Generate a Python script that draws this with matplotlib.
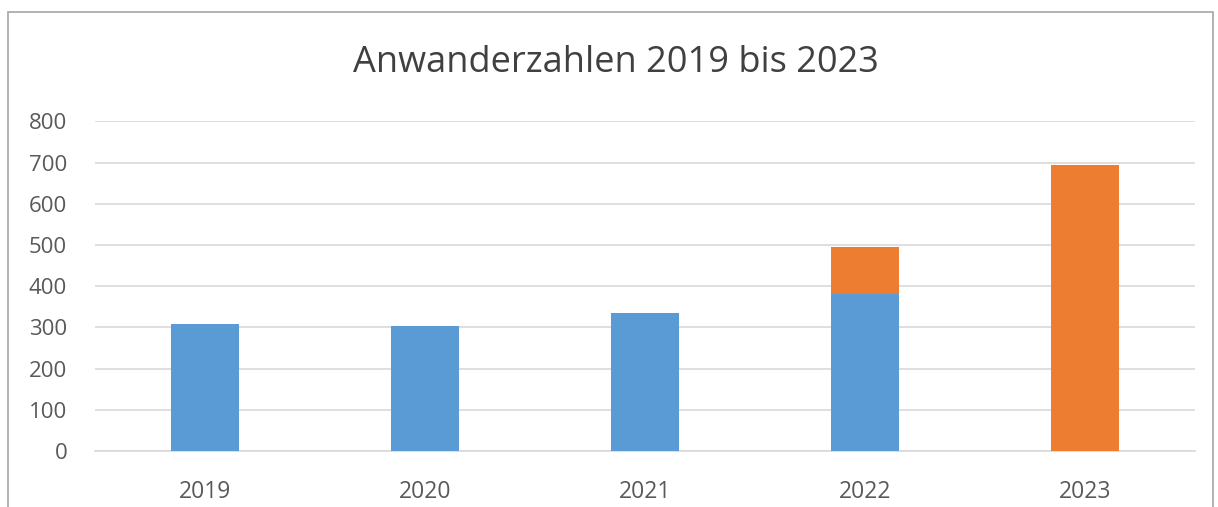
import matplotlib.pyplot as plt
from matplotlib.patches import Rectangle

# Daten
jahre = ['2019', '2020', '2021', '2022', '2023']
blau = [308, 304, 334, 381, 0]
orange = [0, 0, 0, 113, 693]
y_ticks = [0, 100, 200, 300, 400, 500, 600, 700, 800]

plt.rcParams['font.family'] = ['Open Sans', 'DejaVu Sans']

fig = plt.figure(figsize=(12.18, 5.07), dpi=100)
W, H = 1218, 507

# Rahmen um das Diagramm
fig.patches.append(Rectangle((8 / W, -0.1), (1213 - 8) / W, 1.1 - 12 / H,
                             transform=fig.transFigure, fill=False,
                             edgecolor='#A6A6A6', linewidth=1.2))

ax = fig.add_axes([95 / W, (H - 451) / H, 1100 / W, (451 - 121.3) / H])
x = range(len(jahre))
ax.bar(x, blau, width=0.31, color='#5B9BD5', zorder=3)
ax.bar(x, orange, width=0.31, bottom=blau, color='#ED7D31', zorder=3)

ax.set_xlim(-0.5, 4.5)
ax.set_ylim(0, 800)
ax.set_yticks(y_ticks)
ax.set_xticks(list(x))
ax.set_xticklabels(jahre)
ax.grid(axis='y', color='#D9D9D9', linewidth=1.2, zorder=0)
for s in ['top', 'right', 'left']:
    ax.spines[s].set_visible(False)
ax.spines['bottom'].set_color('#D9D9D9')
ax.spines['bottom'].set_linewidth(1.2)
ax.tick_params(axis='both', length=0, labelsize=16, labelcolor='#595959')
ax.tick_params(axis='y', pad=20)
ax.tick_params(axis='x', pad=21, labelsize=16.5)

fig.text(616 / W, 1 - 63 / H, 'Anwanderzahlen 2019 bis 2023', ha='center',
         va='center', fontsize=26, color='#404040')

fig.savefig('out.png', dpi=100)
